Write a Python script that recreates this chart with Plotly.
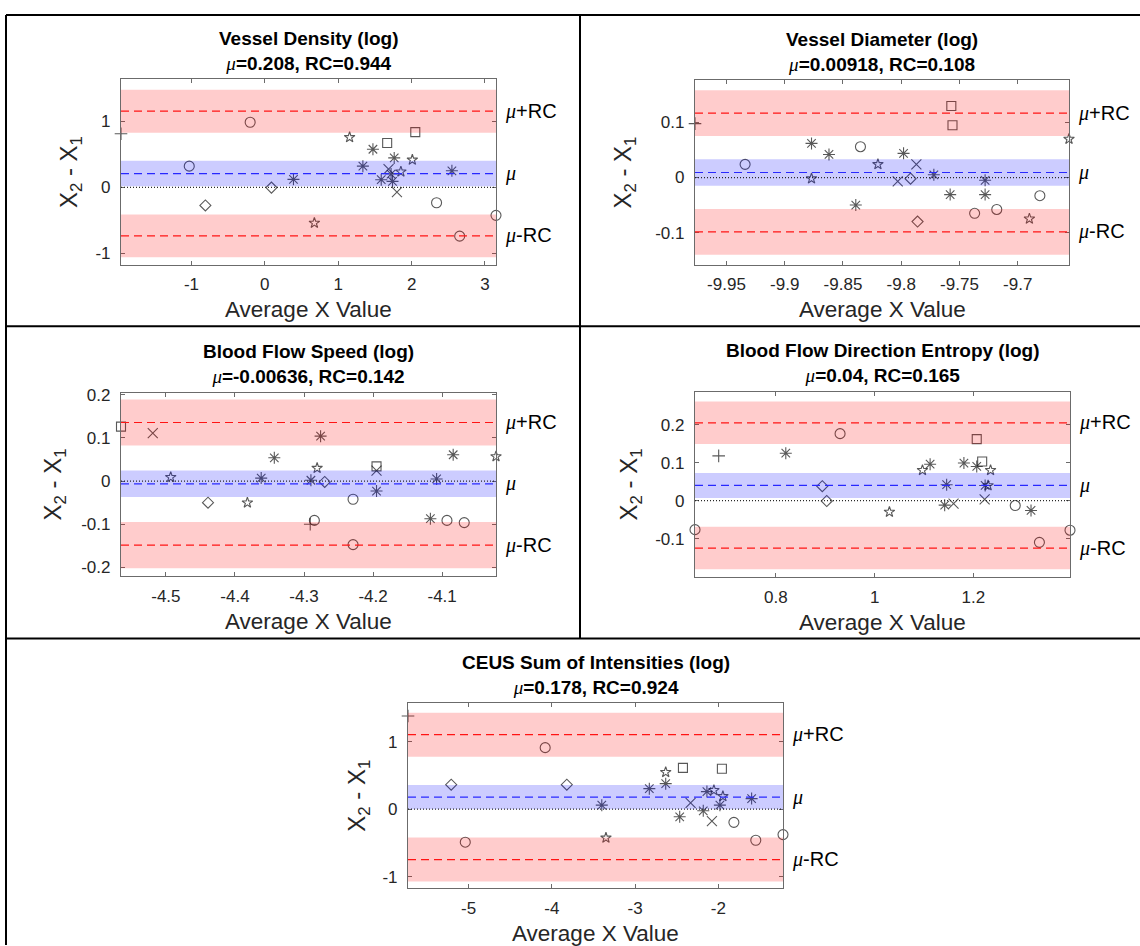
import plotly.graph_objects as go

W, H = 1140, 946

# ---------------- data ----------------
titles = ["Vessel Density (log)", "Vessel Diameter (log)", "Blood Flow Speed (log)",
          "Blood Flow Direction Entropy (log)", "CEUS Sum of Intensities (log)"]
mu_vals = [0.208, 0.00918, -0.00636, 0.04, 0.178]
rc_vals = [0.944, 0.108, 0.142, 0.165, 0.924]
mu_labels = ["0.208", "0.00918", "-0.00636", "0.04", "0.178"]
rc_labels = ["0.944", "0.108", "0.142", "0.165", "0.924"]
mu_ci = [0.193, 0.024, 0.0307, 0.033, 0.18]       # half-width of the blue band
loa_ci = [0.325, 0.0415, 0.0535, 0.056, 0.325]    # half-width of the red bands

p1_x = [-1.96, -0.20, 1.155, 1.667, 2.05, 1.473, 1.763, 2.01, -1.03, 1.336, 1.686, 1.854,
        2.549, 1.72, 0.39, 1.586, 1.74, 0.09, 1.80, -0.81, 2.34, 3.15, 0.675, 2.655]
p1_y = [0.81, 0.985, 0.756, 0.67, 0.835, 0.576, 0.445, 0.415, 0.32, 0.32, 0.275, 0.235,
        0.25, 0.2, 0.12, 0.115, 0.09, -0.005, -0.075, -0.275, -0.234, -0.425, -0.54, -0.74]
p1_m = ['+', 'o', 'p', 's', 's', '*', '*', 'p', 'o', '*', 'x', 'p',
        '*', '*', '*', '*', '*', 'd', 'x', 'd', 'o', 'o', 'p', 'o']

p2_x = [-9.977, -9.934, -9.877, -9.877, -9.862, -9.835, -9.839, -9.820, -9.803, -9.798, -9.792, -9.787,
        -9.786, -9.772, -9.757, -9.756, -9.758, -9.737, -9.728, -9.728, -9.718, -9.690, -9.681, -9.656]
p2_y = [0.098, 0.024, -0.002, 0.062, 0.042, 0.056, -0.050, 0.024, -0.007, 0.044, -0.002, 0.024,
        -0.080, 0.005, 0.130, 0.095, -0.031, -0.065, -0.005, -0.031, -0.058, -0.075, -0.033, 0.070]
p2_m = ['+', 'o', 'p', '*', '*', 'o', '*', 'p', 'x', '*', 'd', 'x',
        'd', '*', 's', 's', '*', 'o', '*', '*', 'o', 'p', 'o', 'p']

p3_x = [-4.565, -4.519, -4.493, -4.439, -4.382, -4.362, -4.343, -4.290, -4.291, -4.285, -4.281, -4.276,
        -4.270, -4.229, -4.229, -4.195, -4.195, -4.195, -4.117, -4.108, -4.093, -4.084, -4.068, -4.022]
p3_y = [0.126, 0.111, 0.009, -0.050, -0.050, 0.007, 0.054, 0.002, -0.100, -0.091, 0.030, 0.104,
        -0.002, -0.042, -0.147, 0.034, 0.024, -0.023, -0.087, 0.005, -0.091, 0.061, -0.096, 0.057]
p3_m = ['s', 'x', 'p', 'd', 'p', '*', '*', '*', '+', 'o', 'p', '*',
        'd', 'o', 'o', 's', 'x', '*', '*', '*', 'o', '*', 'o', 'p']

p4_x = [0.636, 0.684, 0.820, 0.930, 0.894, 0.903, 1.030, 1.097, 1.1125, 1.146, 1.142, 1.160,
        1.181, 1.207, 1.207, 1.218, 1.235, 1.224, 1.230, 1.223, 1.285, 1.317, 1.334, 1.396]
p4_y = [-0.0765, 0.118, 0.125, 0.1765, 0.038, -0.001, -0.030, 0.080, 0.096, 0.042, -0.012, -0.008,
        0.099, 0.090, 0.162, 0.103, 0.080, 0.040, 0.040, 0.003, -0.013, -0.026, -0.110, -0.078]
p4_m = ['o', '+', '*', 'o', 'd', 'd', 'p', 'p', '*', '*', '*', 'x',
        '*', '*', 's', 's', 'p', '*', 'p', 'x', 'o', '*', 'o', 'o']

p5_x = [-5.728, -5.209, -5.04, -4.08, -3.82, -3.40, -3.35, -2.829, -2.632, -2.632, -2.464, -2.425,
        -2.333, -2.181, -2.137, -2.053, -2.077, -1.957, -1.945, -1.981, -1.813, -1.60, -1.55, -1.223]
p5_y = [1.379, 0.362, -0.489, 0.910, 0.362, 0.059, -0.425, 0.303, 0.547, 0.377, -0.113, 0.611,
        0.093, -0.024, 0.26, 0.279, -0.176, 0.597, 0.19, 0.059, -0.195, 0.156, -0.460, -0.377]
p5_m = ['+', 'd', 'o', 'o', 'd', '*', 'p', '*', 'p', '*', '*', 's',
        'x', '*', '*', 'p', 'x', 's', 'p', '*', 'o', '*', 'o', 'o']

y_ranges = [[-1.174, 1.634], [-0.1586, 0.1766], [-0.22, 0.2046], [-0.2017, 0.287], [-1.174, 1.570]]

x_ticks = [[-1, 0, 1, 2, 3],
           [-9.95, -9.9, -9.85, -9.8, -9.75, -9.7],
           [-4.5, -4.4, -4.3, -4.2, -4.1],
           [0.8, 1.0, 1.2],
           [-5, -4, -3, -2]]
x_tick_labels = [["-1", "0", "1", "2", "3"],
                 ["-9.95", "-9.9", "-9.85", "-9.8", "-9.75", "-9.7"],
                 ["-4.5", "-4.4", "-4.3", "-4.2", "-4.1"],
                 ["0.8", "1", "1.2"],
                 ["-5", "-4", "-3", "-2"]]
y_ticks = [[-1, 0, 1], [-0.1, 0, 0.1], [-0.2, -0.1, 0, 0.1, 0.2], [-0.1, 0, 0.1, 0.2], [-1, 0, 1]]
y_tick_labels = [["-1", "0", "1"], ["-0.1", "0", "0.1"], ["-0.2", "-0.1", "0", "0.1", "0.2"],
                 ["-0.1", "0", "0.1", "0.2"], ["-1", "0", "1"]]

xs = [p1_x, p2_x, p3_x, p4_x, p5_x]
ys = [p1_y, p2_y, p3_y, p4_y, p5_y]
ms = [p1_m, p2_m, p3_m, p4_m, p5_m]

# ---------------- styling / layout ----------------
# plot boxes in pixels: left, top, right, bottom
boxes = [(121, 73, 496, 260), (695, 74, 1069, 260),
         (121, 389, 496, 574), (695, 388, 1070, 575),
         (408, 702, 783, 889)]
ylab_shift = [51, 70, 67, 65, 49]

SYM = {'o': 'circle-open', '+': 'cross-thin-open', '*': 'asterisk-open', 'p': 'star-open',
       's': 'square-open', 'x': 'x-thin-open', 'd': 'diamond-open'}
SIZE = {'o': 10, '+': 9, '*': 10, 'p': 8, 's': 9, 'x': 10, 'd': 8.5}

FONT = "Liberation Sans, Arial, sans-serif"
MU = "<i><span style='font-family:Liberation Serif, Times New Roman, serif'>μ</span></i>"
AXC = "#6b6b6b"

fig = go.Figure()
shapes = []
annotations = []

for i in range(5):
    sfx = "" if i == 0 else str(i + 1)
    xa, ya = "x" + sfx, "y" + sfx
    l, t, r, b = boxes[i]
    fig.add_trace(go.Scatter(
        x=xs[i], y=ys[i], mode="markers", xaxis=xa, yaxis=ya,
        marker=dict(symbol=[SYM[m] for m in ms[i]], size=[SIZE[m] for m in ms[i]],
                    color="#111111", line=dict(width=1.1, color="#111111")),
        cliponaxis=False, showlegend=False, hoverinfo="skip"))

    fig.layout["xaxis" + sfx] = dict(
        domain=[l / W, r / W], anchor=ya, range=[min(xs[i]), max(xs[i])],
        tickvals=x_ticks[i], ticktext=x_tick_labels[i], ticks="inside", ticklen=4,
        tickcolor=AXC, showline=True, linecolor=AXC, linewidth=1.2, mirror="ticks",
        showgrid=False, zeroline=False, tickfont=dict(family=FONT, size=17, color="#262626"),
        ticklabelstandoff=4)
    fig.layout["yaxis" + sfx] = dict(
        domain=[1 - b / H, 1 - t / H], anchor=xa, range=y_ranges[i],
        tickvals=y_ticks[i], ticktext=y_tick_labels[i], ticks="inside", ticklen=4,
        tickcolor=AXC, showline=True, linecolor=AXC, linewidth=1.2, mirror="ticks",
        showgrid=False, zeroline=False, tickfont=dict(family=FONT, size=17, color="#262626"),
        ticklabelstandoff=6)

    mu, rc = mu_vals[i], rc_vals[i]
    dxr = xa + " domain"
    # translucent confidence bands drawn over the markers
    for lo, hi, col in [(mu + rc - loa_ci[i], mu + rc + loa_ci[i], "rgba(255,0,0,0.2)"),
                        (mu - rc - loa_ci[i], mu - rc + loa_ci[i], "rgba(255,0,0,0.2)"),
                        (mu - mu_ci[i], mu + mu_ci[i], "rgba(0,0,255,0.2)")]:
        shapes.append(dict(type="rect", xref=dxr, yref=ya, x0=0, x1=1, y0=lo, y1=hi,
                           fillcolor=col, line=dict(width=0), layer="above"))
    for yv, col, dash in [(mu + rc, "rgb(255,20,20)", "8px,5px"),
                          (mu - rc, "rgb(255,20,20)", "8px,5px"),
                          (mu, "rgb(40,40,255)", "8px,5px"),
                          (0, "rgb(40,40,40)", "1px,2px")]:
        shapes.append(dict(type="line", xref=dxr, yref=ya, x0=0, x1=1, y0=yv, y1=yv,
                           line=dict(color=col, width=1.2, dash=dash), layer="above"))

    annotations.append(dict(
        xref=dxr, yref=ya + " domain", x=0.5, y=1, yshift=28.5, xanchor="center", yanchor="middle",
        text="<b>" + titles[i] + "</b><br>" + MU + "<b>=" + mu_labels[i] + ", RC=" + rc_labels[i] + "</b>",
        showarrow=False, font=dict(family=FONT, size=19, color="black")))
    for yv, txt in [(mu + rc, MU + "+RC"), (mu, MU), (mu - rc, MU + "-RC")]:
        annotations.append(dict(xref=dxr, yref=ya, x=1, y=yv, xshift=7, xanchor="left",
                                yanchor="middle", text=txt, showarrow=False,
                                font=dict(family=FONT, size=20, color="black")))
    annotations.append(dict(xref=dxr, yref=ya + " domain", x=0.5, y=0, yshift=-45,
                            xanchor="center", yanchor="middle", text="Average X Value",
                            showarrow=False, font=dict(family=FONT, size=22.5, color="#262626")))
    annotations.append(dict(xref=dxr, yref=ya + " domain", x=0, y=0.5, xshift=-ylab_shift[i],
                            xanchor="center", yanchor="middle", textangle=-90,
                            text="X<sub>2</sub> - X<sub>1</sub>",
                            showarrow=False, font=dict(family=FONT, size=24, color="#262626")))

# table borders
for x0, y0, x1, y1 in [(6, 8, 6, 946), (6, 8, 1140, 8), (580, 8, 580, 637),
                       (6, 322, 1140, 322), (6, 637, 1140, 637)]:
    shapes.append(dict(type="line", xref="paper", yref="paper",
                       x0=x0 / W, x1=x1 / W, y0=1 - y0 / H, y1=1 - y1 / H,
                       line=dict(color="black", width=2), layer="above"))

fig.update_layout(width=W, height=H, margin=dict(l=0, r=0, t=0, b=0),
                  paper_bgcolor="white", plot_bgcolor="white",
                  shapes=shapes, annotations=annotations)

fig.write_html("out.html", config={"displayModeBar": False},
               post_script="document.body.style.margin='0px';"
                           "document.body.style.padding='0px';"
                           "document.documentElement.style.overflow='hidden';"
                           "var gd=document.getElementById('{plot_id}');"
                           "gd.style.position='absolute';gd.style.left='0px';gd.style.top='0px';")
